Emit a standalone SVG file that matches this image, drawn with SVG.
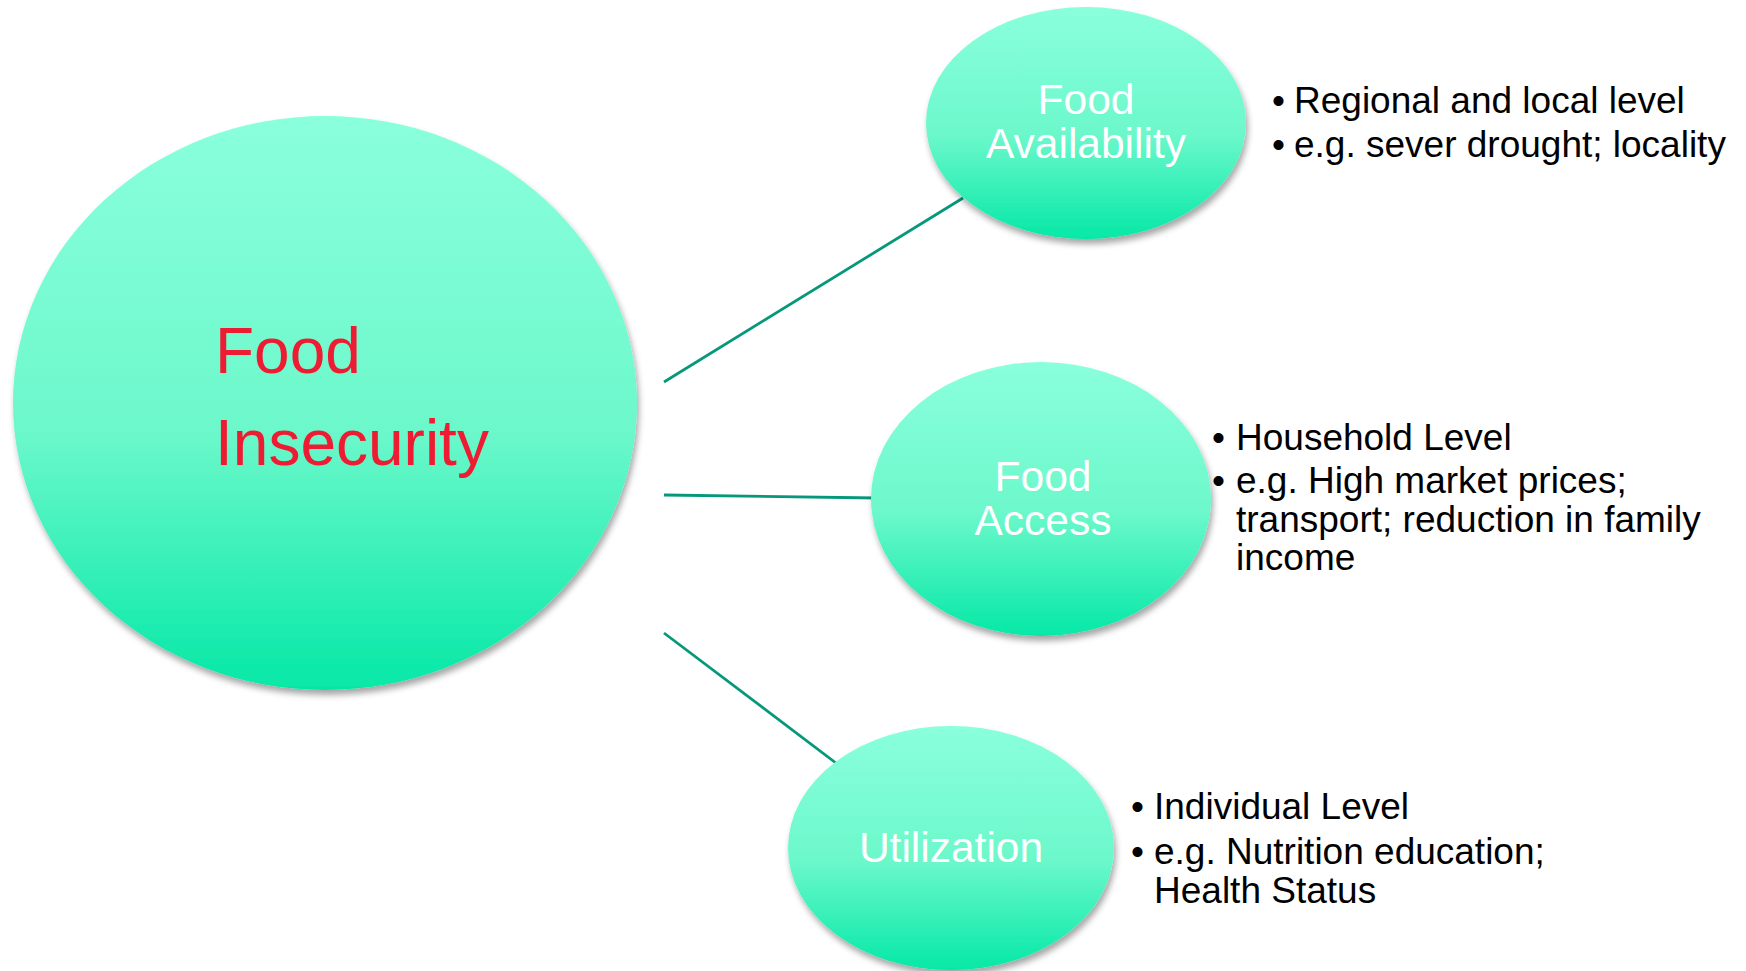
<svg xmlns="http://www.w3.org/2000/svg" width="1746" height="971" viewBox="0 0 1746 971">
<style>
.lbl{font-family:"Liberation Sans",Arial,sans-serif;font-size:42.5px;fill:#ffffff;text-anchor:middle}
.main{font-family:"Liberation Sans",Arial,sans-serif;font-size:64px;fill:#EE1C33}
.bul{font-family:"Liberation Sans",Arial,sans-serif;font-size:37px;fill:#000000}
.conn{stroke:#05987A;stroke-width:2.8;fill:none}
.node{fill:url(#g);filter:url(#sh)}
</style>
<defs>
<linearGradient id="g" x1="0" y1="0" x2="0" y2="1">
<stop offset="0" stop-color="#8AFFDC"/>
<stop offset="0.55" stop-color="#6CF8CB"/>
<stop offset="1" stop-color="#05E8A6"/>
</linearGradient>
<filter id="sh" x="-10%" y="-10%" width="125%" height="125%">
<feDropShadow dx="2" dy="5" stdDeviation="3" flood-color="#000000" flood-opacity="0.35"/>
</filter>
</defs>
<g id="connectors">
<line class="conn" x1="664" y1="382" x2="963" y2="198"/>
<line class="conn" x1="664" y1="495" x2="877" y2="498"/>
<line class="conn" x1="664" y1="633" x2="836" y2="763"/>
</g>
<g id="food-insecurity">
<ellipse class="node" cx="325" cy="403" rx="312" ry="287"/>
<text class="main" x="215" y="373">Food</text>
<text class="main" x="215" y="465">Insecurity</text>
</g>
<g id="food-availability">
<ellipse class="node" cx="1086" cy="123" rx="160" ry="116"/>
<text class="lbl" x="1086" y="114">Food</text>
<text class="lbl" x="1086" y="158">Availability</text>
</g>
<g id="food-availability-notes">
<text class="bul" x="1272" y="113">•</text>
<text class="bul" x="1294" y="113">Regional and local level</text>
<text class="bul" x="1272" y="157">•</text>
<text class="bul" x="1294" y="157">e.g. sever drought; locality</text>
</g>
<g id="food-access">
<ellipse class="node" cx="1041" cy="499" rx="170" ry="137"/>
<text class="lbl" x="1043" y="491">Food</text>
<text class="lbl" x="1043" y="535">Access</text>
</g>
<g id="food-access-notes">
<text class="bul" x="1212" y="450">•</text>
<text class="bul" x="1236" y="450">Household Level</text>
<text class="bul" x="1212" y="493">•</text>
<text class="bul" x="1236" y="493">e.g. High market prices;</text>
<text class="bul" x="1236" y="532">transport; reduction in family</text>
<text class="bul" x="1236" y="570">income</text>
</g>
<g id="utilization">
<ellipse class="node" cx="951" cy="848" rx="163" ry="122"/>
<text class="lbl" x="951" y="862">Utilization</text>
</g>
<g id="utilization-notes">
<text class="bul" x="1131" y="819">•</text>
<text class="bul" x="1154" y="819">Individual Level</text>
<text class="bul" x="1131" y="864">•</text>
<text class="bul" x="1154" y="864">e.g. Nutrition education;</text>
<text class="bul" x="1154" y="903">Health Status</text>
</g>
</svg>
